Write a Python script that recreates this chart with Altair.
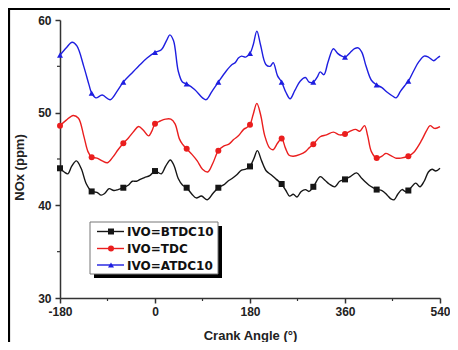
import altair as alt
import pandas as pd

series_names = ["IVO=BTDC10", "IVO=TDC", "IVO=ATDC10"]
series_colors = ["#161616", "#ea1e1e", "#1e1ee0"]
series_shapes = ["square", "circle", "triangle-up"]
marker_angles = [-180, -120, -60, 0, 60, 120, 180, 240, 300, 360, 420, 480]

x_ticks = [-180, 0, 180, 360, 540]
x_minor = [-90, 90, 270, 450]
y_ticks = [30, 40, 50, 60]
y_minor = [35, 45, 55]

btdc_angle = [-180, -172, -165, -158, -149, -140, -130, -120, -110, -102, -95, -87, -78, -70, -60,
              -50, -43, -35, -28, -20, -10, 0, 12, 20, 29, 36, 44, 52, 60, 70, 78, 88, 99, 110, 120,
              130, 138, 146, 155, 164, 172, 180, 187, 194, 202, 211, 220, 230, 240, 248, 255, 262,
              269, 277, 285, 292, 300, 313, 322, 330, 341, 350, 360, 370, 382, 392, 405, 413, 420,
              430, 440, 447, 453, 460, 468, 474, 480, 494, 502, 510, 518, 525, 532, 540]
btdc_nox = [44.0, 43.6, 43.4, 44.2, 44.8, 44.0, 42.3, 41.5, 41.4, 41.1, 41.3, 41.8, 41.6, 41.7, 41.9,
            42.2, 42.6, 42.6, 42.8, 43.0, 43.2, 43.7, 43.4, 44.2, 44.9, 44.3, 42.9, 42.2, 41.9, 41.2,
            40.8, 41.0, 40.6, 41.3, 41.9, 42.2, 42.6, 42.9, 43.3, 43.8, 43.9, 44.2, 45.0, 45.9, 44.8,
            43.7, 43.3, 42.8, 42.3, 41.6, 41.0, 41.2, 40.9, 41.5, 41.7, 41.5, 42.0, 43.1, 42.7, 42.3,
            42.0, 42.6, 42.8, 43.1, 43.5, 42.9, 42.2, 41.9, 41.7, 41.6, 41.1, 40.7, 40.6, 41.2, 41.7,
            41.5, 41.6, 42.4, 42.0, 42.6, 43.6, 43.9, 43.7, 44.0]

tdc_angle = [-180, -168, -155, -145, -135, -127, -120, -110, -100, -90, -80, -70, -60, -50, -40, -31,
             -22, -12, -6, 0, 10, 20, 30, 38, 46, 52, 60, 70, 80, 90, 100, 110, 120, 130, 140, 149,
             158, 168, 174, 180, 186, 193, 200, 208, 217, 224, 232, 240, 247, 254, 262, 275, 285,
             292, 300, 313, 325, 338, 350, 360, 370, 380, 388, 397, 403, 410, 420, 430, 437, 446,
             456, 466, 480, 490, 505, 514, 521, 530, 540]
tdc_nox = [48.6, 49.2, 49.7, 49.4, 47.5, 45.8, 45.2, 45.1, 44.8, 44.6, 45.2, 46.0, 46.7, 47.3, 48.0,
           48.5, 48.1, 47.5, 48.0, 48.8, 49.1, 49.3, 49.3, 48.8, 47.2, 46.6, 46.1, 45.5, 44.8, 43.9,
           43.6, 44.6, 45.9, 46.4, 46.6, 47.1, 47.5, 48.2, 48.4, 48.7, 49.8, 51.0, 49.8, 47.5, 46.2,
           46.0, 46.7, 47.2, 46.2, 45.4, 45.3, 45.5, 45.8, 46.2, 46.6, 47.4, 47.6, 47.9, 47.6, 47.7,
           48.0, 48.2, 48.0, 48.6, 47.5, 45.8, 45.1, 45.3, 45.6, 45.4, 45.1, 45.1, 45.3, 45.7, 47.0,
           48.0, 48.6, 48.3, 48.5]

atdc_angle = [-180, -168, -157, -148, -135, -125, -120, -112, -100, -85, -72, -60, -45, -28, -15, 0,
              12, 22, 28, 35, 44, 52, 60, 75, 90, 97, 108, 120, 135, 146, 152, 158, 164, 172, 180,
              186, 193, 200, 210, 218, 224, 232, 240, 248, 256, 265, 275, 285, 292, 300, 307, 313,
              320, 328, 338, 346, 354, 360, 370, 378, 385, 392, 400, 410, 420, 430, 440, 450, 457,
              465, 473, 480, 490, 500, 510, 518, 528, 535, 540]
atdc_nox = [56.2, 57.0, 57.6, 57.2, 55.0, 53.0, 52.1, 51.6, 51.9, 51.4, 52.3, 53.3, 54.2, 55.2, 55.9,
            56.5, 56.8, 57.8, 58.4, 57.8, 54.5, 53.3, 53.1, 52.5, 51.6, 51.4, 52.3, 53.3, 54.5, 55.2,
            55.4, 55.9, 56.1, 56.0, 56.4, 57.3, 58.8, 57.3, 55.2, 55.0, 55.4, 54.0, 53.3, 52.2, 51.5,
            52.4, 53.4, 53.8, 53.3, 53.3, 53.8, 54.4, 54.1, 55.5, 56.9, 56.4, 56.1, 56.0, 56.5, 56.9,
            57.0, 56.5, 55.0, 53.5, 53.0, 52.7, 52.2, 51.8, 51.6, 52.3, 52.9, 53.4, 54.5, 55.5, 56.1,
            56.0, 55.6, 55.9, 56.1]

frames = []
for name, ang, val in [(series_names[0], btdc_angle, btdc_nox),
                       (series_names[1], tdc_angle, tdc_nox),
                       (series_names[2], atdc_angle, atdc_nox)]:
    frames.append(pd.DataFrame({"angle": ang, "nox": val, "series": name}))
df = pd.concat(frames, ignore_index=True)
df["marker"] = df["angle"].isin(marker_angles)

W, H = 380, 278
PAD = {"left": 52, "top": 12, "right": 10, "bottom": 44}
FONT = "Liberation Sans"

xscale = alt.Scale(domain=[-180, 540], nice=False, zero=False)
yscale = alt.Scale(domain=[30, 60], nice=False, zero=False)
xaxis = alt.Axis(values=x_ticks, title="Crank Angle (°)", grid=False, titleY=37,
                 titleBaseline="middle", labelPadding=3, labelFlush=False,
                 labelExpr="datum.value < 0 ? '-' + abs(datum.value) : '' + datum.value")
yaxis = alt.Axis(values=y_ticks, title="NOx (ppm)", grid=False, titleX=-41, titleY=147,
                 titleAngle=270, titleAlign="center", titleBaseline="middle", labelPadding=4,
                 labelFlush=False)
x_enc = alt.X("angle:Q", scale=xscale, axis=xaxis)
y_enc = alt.Y("nox:Q", scale=yscale, axis=yaxis)
color = alt.Color("series:N", scale=alt.Scale(domain=series_names, range=series_colors), legend=None)
shape = alt.Shape("series:N", scale=alt.Scale(domain=series_names, range=series_shapes), legend=None)

base = alt.Chart(df)
lines = base.mark_line(interpolate="catmull-rom", strokeWidth=1.4).encode(
    x=x_enc, y=y_enc, color=color, detail="series:N")
points = base.transform_filter("datum.marker").mark_point(filled=True, size=36, opacity=1).encode(
    x=x_enc, y=y_enc, color=color, shape=shape)

minor_x = alt.Chart(pd.DataFrame({"angle": x_minor})).mark_rule(color="#333", strokeWidth=1.2).encode(
    x=x_enc, y=alt.value(H), y2=alt.value(H + 3))
minor_y = alt.Chart(pd.DataFrame({"nox": y_minor})).mark_rule(color="#333", strokeWidth=1.2).encode(
    y=y_enc, x=alt.value(0), x2=alt.value(-3))

one = pd.DataFrame({"k": [0]})
frame_top = alt.Chart(one).mark_rule(color="#000", strokeWidth=2.2).encode(
    x=alt.value(-52), x2=alt.value(W + PAD["right"]), y=alt.value(-11))
frame_left = alt.Chart(one).mark_rule(color="#000", strokeWidth=2.2).encode(
    x=alt.value(-51), y=alt.value(-12), y2=alt.value(H + PAD["bottom"]))

# legend box
LX0, LX1, LY0, LY1 = 30, 158, 202, 254
shadow = alt.Chart(one).mark_rect(color="#000").encode(
    x=alt.value(LX0 + 4), x2=alt.value(LX1 + 4), y=alt.value(LY0 + 4), y2=alt.value(LY1 + 4))
box = alt.Chart(one).mark_rect(fill="white", stroke="#777", strokeWidth=1).encode(
    x=alt.value(LX0), x2=alt.value(LX1), y=alt.value(LY0), y2=alt.value(LY1))

legend_layers = []
row_y = [211.5, 228.5, 245]
for name, col, shp, ry in zip(series_names, series_colors, series_shapes, row_y):
    d = pd.DataFrame({"series": [name]})
    c = alt.Chart(d)
    legend_layers.append(c.mark_rule(color=col, strokeWidth=1.4).encode(
        x=alt.value(37), x2=alt.value(64), y=alt.value(ry)))
    legend_layers.append(c.mark_point(color=col, shape=shp, filled=True, size=36, opacity=1).encode(
        x=alt.value(51), y=alt.value(ry)))
    legend_layers.append(c.mark_text(align="left", baseline="middle", font="DejaVu Sans",
                                     fontWeight="bold", fontSize=12, color="#111").encode(
        x=alt.value(67), y=alt.value(ry + 0.5), text="series:N"))

chart = alt.layer(
    frame_top, frame_left, lines, points, minor_x, minor_y, shadow, box, *legend_layers
).properties(
    width=W, height=H,
    autosize=alt.AutoSizeParams(type="none"),
    padding=PAD,
    background="white",
).configure_view(stroke=None).configure_axis(
    domainColor="#333", domainWidth=1.5, tickColor="#333", tickWidth=1.5, tickSize=5,
    labelFont=FONT, labelFontWeight="bold", labelFontSize=12, labelColor="#222",
    titleFont=FONT, titleFontWeight="bold", titleFontSize=13, titleColor="#222",
)

chart.save("out.html", embed_options={"renderer": "svg", "actions": False})
